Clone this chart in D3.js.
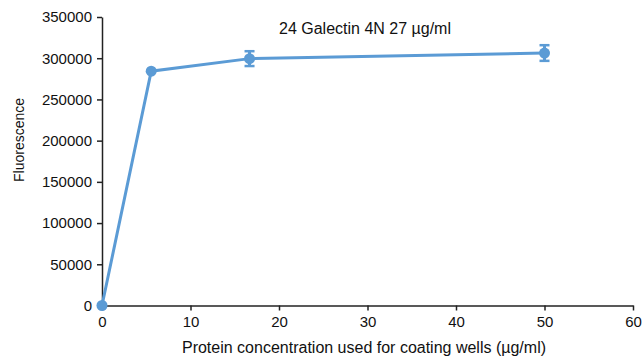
<!DOCTYPE html>
<html><head><meta charset="utf-8">
<script src="https://cdn.jsdelivr.net/npm/d3@7"></script>
<style>body{margin:0;background:#fff;} text{font-family:"Liberation Sans",Arial,sans-serif;}</style>
</head><body>
<svg id="c" width="644" height="360"></svg>
<script>
const concentrations = [0, 5.56, 16.67, 50];
const fluorescence = [0, 284300, 299500, 306300];
const errors = [0, 0, 9000, 9500];
const xTicks = [0, 10, 20, 30, 40, 50, 60];
const yTicks = [0, 50000, 100000, 150000, 200000, 250000, 300000, 350000];
const title = "24 Galectin 4N 27 µg/ml";
const xTitle = "Protein concentration used for coating wells (µg/ml)";
const yTitle = "Fluorescence";

const svg = d3.select("#c");
const L = 102, R = 633, T = 17, B = 305.5;
const x = d3.scaleLinear().domain([0, 60]).range([L, R]);
const y = d3.scaleLinear().domain([0, 350000]).range([B, T]);
const color = "#5b9bd5";

const xa = svg.append("g").attr("transform", `translate(0,${B})`)
  .call(d3.axisBottom(x).tickValues(xTicks).tickSize(5).tickSizeOuter(0).tickPadding(6));
const ya = svg.append("g").attr("transform", `translate(${L},0)`)
  .call(d3.axisLeft(y).tickValues(yTicks).tickSize(5).tickSizeOuter(0).tickPadding(5).tickFormat(d3.format("d")));
[xa, ya].forEach(a => {
  a.selectAll("path").attr("stroke", "#222").attr("stroke-width", 1.5);
  a.selectAll("line").attr("stroke", "#222").attr("stroke-width", 1.5);
  a.selectAll("text").attr("font-size", 15).attr("fill", "#111")
   .style("font-family", '"Liberation Sans",Arial,sans-serif');
});

const pts = concentrations.map((c, i) => ({c, v: fluorescence[i], e: errors[i]}));
svg.append("path").datum(pts)
  .attr("fill", "none").attr("stroke", color).attr("stroke-width", 3)
  .attr("d", d3.line().x(d => x(d.c)).y(d => y(d.v)));

const eb = svg.append("g").selectAll("g").data(pts.filter(d => d.e > 0)).join("g");
eb.append("line").attr("x1", d => x(d.c)).attr("x2", d => x(d.c))
  .attr("y1", d => y(d.v - d.e)).attr("y2", d => y(d.v + d.e))
  .attr("stroke", color).attr("stroke-width", 3);
eb.append("line").attr("x1", d => x(d.c) - 5).attr("x2", d => x(d.c) + 5)
  .attr("y1", d => y(d.v - d.e)).attr("y2", d => y(d.v - d.e))
  .attr("stroke", color).attr("stroke-width", 2.5);
eb.append("line").attr("x1", d => x(d.c) - 5).attr("x2", d => x(d.c) + 5)
  .attr("y1", d => y(d.v + d.e)).attr("y2", d => y(d.v + d.e))
  .attr("stroke", color).attr("stroke-width", 2.5);

svg.append("g").selectAll("circle").data(pts).join("circle")
  .attr("cx", d => x(d.c)).attr("cy", d => y(d.v)).attr("r", 5.5).attr("fill", color);

svg.append("text").attr("x", 279).attr("y", 34).attr("font-size", 16).attr("fill", "#111").text(title);
svg.append("text").attr("x", 364).attr("y", 353).attr("text-anchor", "middle")
  .attr("font-size", 16).attr("fill", "#111").text(xTitle);
svg.append("text").attr("transform", `translate(24,140) rotate(-90)`).attr("text-anchor", "middle")
  .attr("font-size", 14).attr("fill", "#111").text(yTitle);
</script>
</body></html>
